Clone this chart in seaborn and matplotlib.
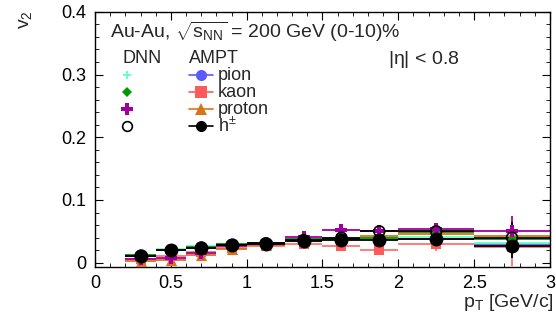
import numpy as np
import pandas as pd
import matplotlib
matplotlib.use('Agg')
import matplotlib.pyplot as plt
import seaborn as sns

# pT bins
pt = [0.3, 0.5, 0.7, 0.9, 1.125, 1.375, 1.625, 1.875, 2.25, 2.75]
pt_err = [0.1, 0.1, 0.1, 0.1, 0.125, 0.125, 0.125, 0.125, 0.25, 0.25]

# AMPT v2
ampt_pion = [0.012, 0.021, 0.025, 0.029, 0.031, 0.035, 0.037, 0.037, 0.038, 0.029]
ampt_kaon = [0.006, 0.010, 0.017, 0.024, 0.027, 0.030, 0.026, 0.021, 0.030, 0.025]
ampt_proton = [0.002, 0.005, 0.013, 0.022, 0.028, 0.034, 0.040, 0.043, 0.045, 0.043]
ampt_hpm = [0.011, 0.020, 0.024, 0.028, 0.030, 0.035, 0.036, 0.036, 0.038, 0.027]
ampt_pion_err = [0.001, 0.001, 0.001, 0.002, 0.002, 0.003, 0.004, 0.006, 0.008, 0.012]
ampt_kaon_err = [0.002, 0.002, 0.002, 0.003, 0.003, 0.004, 0.006, 0.008, 0.012, 0.030]
ampt_proton_err = [0.002, 0.003, 0.003, 0.003, 0.004, 0.005, 0.006, 0.008, 0.010, 0.020]
ampt_hpm_err = [0.001, 0.001, 0.001, 0.002, 0.002, 0.003, 0.004, 0.006, 0.008, 0.020]

# DNN v2
dnn_pion = [0.013, 0.022, 0.026, 0.030, 0.032, 0.037, 0.039, 0.040, 0.041, 0.032]
dnn_kaon = [0.012, 0.021, 0.025, 0.029, 0.031, 0.037, 0.038, 0.040, 0.049, 0.038]
dnn_proton = [0.006, 0.007, 0.016, 0.026, 0.030, 0.041, 0.052, 0.050, 0.054, 0.050]
dnn_hpm = [0.011, 0.020, 0.024, 0.028, 0.031, 0.036, 0.040, 0.050, 0.050, 0.040]
dnn_err = [0.001, 0.001, 0.002, 0.002, 0.003, 0.004, 0.006, 0.008, 0.010, 0.025]

sns.set_style('ticks')
plt.rcParams['font.family'] = ['Liberation Sans', 'DejaVu Sans']
plt.rcParams['mathtext.fontset'] = 'custom'
plt.rcParams['mathtext.rm'] = 'Liberation Sans'
plt.rcParams['mathtext.it'] = 'Liberation Sans'

fig = plt.figure(figsize=(5.56, 3.21), dpi=100)
ax = fig.add_axes([0.171, 0.168, 0.818, 0.795])

series = [
    # label, y, err, color, marker, size, filled
    ('pion', ampt_pion, ampt_pion_err, '#5a5aff', 'o', 80, True),
    ('kaon', ampt_kaon, ampt_kaon_err, '#ff5a5a', 's', 60, True),
    ('proton', ampt_proton, ampt_proton_err, '#d9731a', '^', 65, True),
    ('DNN pion', dnn_pion, dnn_err, '#66ffcc', 'P', 30, True),
    ('DNN kaon', dnn_kaon, dnn_err, '#009a00', 'D', 25, True),
    ('DNN proton', dnn_proton, dnn_err, '#a000a0', 'P', 70, True),
    ('h', ampt_hpm, ampt_hpm_err, 'black', 'o', 100, True),
    ('DNN h', dnn_hpm, dnn_err, 'black', 'o', 60, False),
]

for name, y, e, c, m, s, filled in series:
    ax.errorbar(pt, y, xerr=pt_err, yerr=e, fmt='none', ecolor=c, elinewidth=1.3,
                alpha=0.85 if name == 'kaon' else 1.0, capsize=0)
    df = pd.DataFrame({'pt': pt, 'v2': y})
    if filled:
        sns.scatterplot(data=df, x='pt', y='v2', ax=ax, color=c, marker=m, s=s,
                        edgecolor=c, linewidth=0, zorder=3)
    else:
        sns.scatterplot(data=df, x='pt', y='v2', ax=ax, facecolor='none', marker=m, s=s,
                        edgecolor=c, linewidth=1.2, zorder=4)

ax.set_xlim(0, 3)
ax.set_ylim(-0.007, 0.4)
ax.set_xticks([0, 0.5, 1, 1.5, 2, 2.5, 3])
ax.set_xticklabels(['0', '0.5', '1', '1.5', '2', '2.5', '3'])
ax.set_yticks([0, 0.1, 0.2, 0.3, 0.4])
ax.set_yticklabels(['0', '0.1', '0.2', '0.3', '0.4'])
ax.minorticks_on()
ax.tick_params(which='both', direction='in', top=True, right=True, labelsize=13, colors='black')
ax.tick_params(which='major', length=6, pad=6)
ax.tick_params(which='minor', length=3)
for sp in ax.spines.values():
    sp.set_linewidth(1.0)
    sp.set_color('black')
ax.set_xlabel('')
ax.set_ylabel('')

fig.text(0.997, 0.025, r'p$_{\rm T}$ [GeV/c]', ha='right', va='bottom', fontsize=14)
fig.text(0.045, 0.94, r'v$_{2}$', rotation=90, ha='center', va='center', fontsize=14)

# header texts
ax.text(0.033, 0.92, r'Au-Au, $\sqrt{s_{\rm NN}}$ = 200 GeV (0-10)%', transform=ax.transAxes,
        fontsize=14, va='center')
ax.text(0.061, 0.816, 'DNN', transform=ax.transAxes, fontsize=13, va='center')
ax.text(0.206, 0.816, 'AMPT', transform=ax.transAxes, fontsize=13, va='center')
ax.text(0.644, 0.812, r'|$\eta$| < 0.8', transform=ax.transAxes, fontsize=14, va='center')

# hand-made legend rows
rows = [0.752, 0.685, 0.618, 0.551]
dnn_keys = [('#66ffcc', 'P', 6, True), ('#009a00', 'D', 5, True), ('#a000a0', 'P', 8, True), ('black', 'o', 7, False)]
ampt_keys = [('#5a5aff', 'o', 'pion'), ('#ff5a5a', 's', 'kaon'), ('#d9731a', '^', 'proton'), ('black', 'o', r'h$^{\pm}$')]
for yy, (c, m, ms, filled) in zip(rows, dnn_keys):
    ax.plot([0.07], [yy], transform=ax.transAxes, marker=m, ms=ms, color=c,
            mfc=c if filled else 'none', mew=1.2 if not filled else 0, ls='none', clip_on=False)
for yy, (c, m, lab) in zip(rows, ampt_keys):
    ax.plot([0.206, 0.26], [yy, yy], transform=ax.transAxes, color=c, lw=1.2)
    ax.plot([0.233], [yy], transform=ax.transAxes, marker=m, ms=8, color=c, mew=0, ls='none')
    ax.text(0.27, yy, lab, transform=ax.transAxes, fontsize=13, va='center')

fig.savefig('out.png', dpi=100, facecolor='white')
